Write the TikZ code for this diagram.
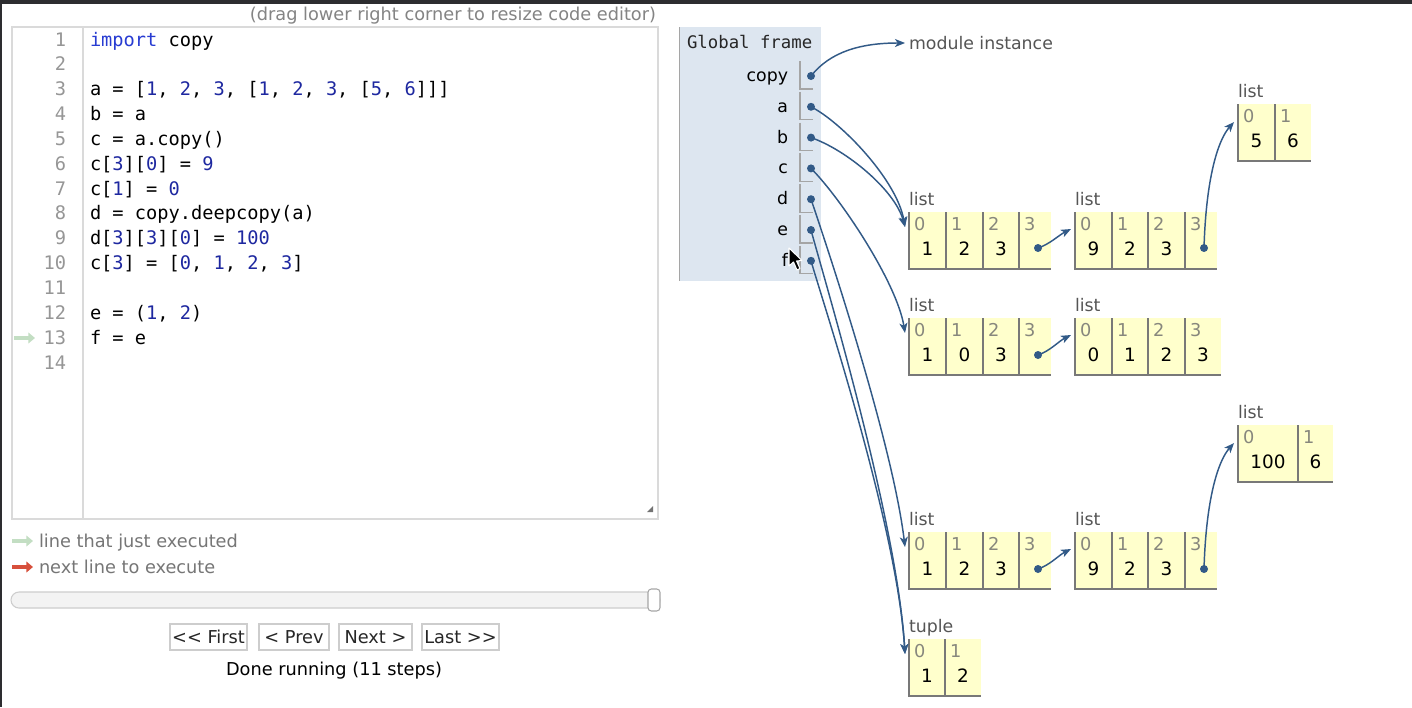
\documentclass[tikz,border=0pt]{standalone}
\usepackage{fontspec}
\setmainfont{DejaVu Sans}
\newfontfamily\codefont{DejaVu Sans Mono}
\usetikzlibrary{arrows.meta}
\definecolor{topbar}{RGB}{45,45,48}
\definecolor{uigray}{RGB}{118,118,118}
\definecolor{edgec}{RGB}{218,218,218}
\definecolor{lnumc}{RGB}{150,150,150}
\definecolor{kwc}{RGB}{40,60,210}
\definecolor{numc}{RGB}{30,40,160}
\definecolor{justc}{RGB}{195,222,195}
\definecolor{nextc}{RGB}{215,80,60}
\definecolor{framebg}{RGB}{221,230,240}
\definecolor{frameedge}{RGB}{165,165,165}
\definecolor{cellbg}{RGB}{255,255,204}
\definecolor{celledge}{RGB}{120,120,120}
\definecolor{idxc}{RGB}{135,135,125}
\definecolor{ptrc}{RGB}{50,90,135}
\definecolor{labc}{RGB}{85,85,85}
\definecolor{slidebg}{RGB}{243,243,243}
\definecolor{slideedge}{RGB}{205,205,205}
\definecolor{btnedge}{RGB}{205,205,205}
\newcommand\setfs[1]{\fontsize{#1}{#1}\selectfont}
\newcommand\nm[1]{\textcolor{numc}{#1}}
\newcommand\pycell[6]{%
  \fill[cellbg] (#2,#4) rectangle (#3,#4+57);
  \draw[cellline] (#2,#4) -- (#2,#4+57) -- (#3,#4+57);
  \node[idxtxt] (#1i) at (#2+5,#4+18) {#5};
  \node[valtxt] (#1v) at ({(#2+#3)/2},#4+43) {#6};
}
\tikzset{
  txt/.style={inner sep=0pt, outer sep=0pt},
  codetxt/.style={txt, anchor=base west, font=\codefont\setfs{14}},
  lnum/.style={txt, anchor=base east, font=\codefont\setfs{14}, text=lnumc},
  uitxt/.style={txt, anchor=base west, font=\setfs{13.3}, text=uigray},
  btn/.style={draw=btnedge, fill=white, line width=0.8pt, minimum height=19.5pt, inner sep=0pt, font=\setfs{13.3}, text=black!85},
  cellline/.style={draw=celledge, line width=1.4pt},
  idxtxt/.style={txt, anchor=base west, font=\setfs{13.3}, text=idxc},
  valtxt/.style={txt, anchor=base, font=\setfs{13.8}, text=black},
  labtxt/.style={txt, anchor=base west, font=\setfs{13}, text=labc},
  varname/.style={txt, anchor=base east, font=\setfs{13}, text=black},
  ptr/.style={draw=ptrc, line width=1.1pt, -{Stealth[length=7.5pt,width=6pt,inset=2pt]}},
  dot/.style={fill=ptrc},
}
\begin{document}
\begin{tikzpicture}[x=0.75pt,y=-0.75pt]
\useasboundingbox (0,0) rectangle (1412,707);
\fill[white] (0,0) rectangle (1412,707);
\fill[topbar] (0,0) rectangle (1412,4);
\draw[topbar, line width=1.2pt] (0.8,0) -- (0.8,707);

% ---------- left panel ----------
\node[txt, anchor=base east, font=\setfs{13.3}, text=uigray!90] (hdr) at (656,20) {(drag lower right corner to resize code editor)};
\draw[edgec, line width=1.2pt] (12,27) rectangle (658,519);
\draw[edgec, line width=1pt] (83,28) -- (83,518);
\fill[black!55] (653,506) -- (653,512) -- (647,512) -- cycle;

\foreach \i in {1,...,14} \node[lnum] (ln\i) at (66,{46+24.85*(\i-1)}) {\i};

\node[codetxt] (c1) at (90,46) {\textcolor{kwc}{import} copy};
\node[codetxt] (c3) at (90,95.7) {a = [\nm{1}, \nm{2}, \nm{3}, [\nm{1}, \nm{2}, \nm{3}, [\nm{5}, \nm{6}]]]};
\node[codetxt] (c4) at (90,120.55) {b = a};
\node[codetxt] (c5) at (90,145.4) {c = a.copy()};
\node[codetxt] (c6) at (90,170.25) {c[\nm{3}][\nm{0}] = \nm{9}};
\node[codetxt] (c7) at (90,195.1) {c[\nm{1}] = \nm{0}};
\node[codetxt] (c8) at (90,219.95) {d = copy.deepcopy(a)};
\node[codetxt] (c9) at (90,244.8) {d[\nm{3}][\nm{3}][\nm{0}] = \nm{100}};
\node[codetxt] (c10) at (90,269.65) {c[\nm{3}] = [\nm{0}, \nm{1}, \nm{2}, \nm{3}]};
\node[codetxt] (c12) at (90,319.35) {e = (\nm{1}, \nm{2})};
\node[codetxt] (c13) at (90,344.2) {f = e};

\draw[justc, line width=3pt, -{Triangle[length=5pt,width=8pt]}] (14,338) -- (35,338);

\draw[justc, line width=3pt, -{Triangle[length=5pt,width=8pt]}] (12,541) -- (33,541);
\node[uitxt] (leg1) at (39,547) {line that just executed};
\draw[nextc, line width=3pt, -{Triangle[length=5pt,width=8pt]}] (12,567) -- (33,567);
\node[uitxt] (leg2) at (39,573) {next line to execute};

\draw[fill=slidebg, draw=slideedge, line width=0.8pt, rounded corners=6pt] (11,592) rectangle (660,608);
\draw[fill=white, draw=black!35, line width=0.8pt, rounded corners=2.5pt] (648,589) rectangle (660,611);

\node[btn, minimum width=57.75pt] (bfirst) at (208.5,637) {<{}< First};
\node[btn, minimum width=52.5pt] (bprev) at (294,637) {< Prev};
\node[btn, minimum width=54.75pt] (bnext) at (375.5,637) {Next >};
\node[btn, minimum width=57.75pt] (blast) at (460.5,637) {Last >{}>};
\node[txt, anchor=base, font=\setfs{13.3}, text=black] (done) at (334,675) {Done running (11 steps)};

% ---------- frame ----------
\fill[framebg] (679,27) rectangle (821,281);
\draw[frameedge, line width=1.3pt] (679.5,27) -- (679.5,281);
\node[txt, anchor=base west, font=\codefont\setfs{13}, text=black!85] (gf) at (687,48) {Global frame};

\foreach \v/\k in {copy/0,a/1,b/2,c/3,d/4,e/5,f/6}{
  \pgfmathsetmacro\yy{76+30.8*\k}
  \node[varname] (vn-\v) at (788,\yy+5.5) {\v};
  \draw[frameedge, line width=1pt] (800,\yy-15) -- (800,\yy+13) -- (813,\yy+13);
  \coordinate (v-\v) at (811,\yy);
}

% ---------- heap ----------
\node[txt, anchor=base west, font=\setfs{13}, text=labc] (modinst) at (909,49.3) {module instance};
\coordinate (modin) at (905,43);

% list A
\node[labtxt] (Alab) at (909,205) {list};
\pycell{A0}{909}{946}{212}{0}{1}
\pycell{A1}{946}{983}{212}{1}{2}
\pycell{A2}{983}{1019}{212}{2}{3}
\pycell{A3}{1019}{1051}{212}{3}{}
\coordinate (Aptr) at (1038,248);
\coordinate (Ain) at (905,227);
% list B
\node[labtxt] (Blab) at (1075,205) {list};
\pycell{B0}{1075}{1112}{212}{0}{9}
\pycell{B1}{1112}{1148}{212}{1}{2}
\pycell{B2}{1148}{1185}{212}{2}{3}
\pycell{B3}{1185}{1217}{212}{3}{}
\coordinate (Bptr) at (1204,248);
\coordinate (Bin) at (1071,229);
% list C
\node[labtxt] (Clab) at (1238,97) {list};
\pycell{C0}{1238}{1275}{104}{0}{5}
\pycell{C1}{1275}{1311}{104}{1}{6}
\coordinate (Cin) at (1234,122);
% list D
\node[labtxt] (Dlab) at (909,311) {list};
\pycell{D0}{909}{946}{318}{0}{1}
\pycell{D1}{946}{983}{318}{1}{0}
\pycell{D2}{983}{1019}{318}{2}{3}
\pycell{D3}{1019}{1051}{318}{3}{}
\coordinate (Dptr) at (1038,355);
\coordinate (Din) at (905,333);
% list E
\node[labtxt] (Elab) at (1075,311) {list};
\pycell{E0}{1075}{1112}{318}{0}{0}
\pycell{E1}{1112}{1148}{318}{1}{1}
\pycell{E2}{1148}{1185}{318}{2}{2}
\pycell{E3}{1185}{1221}{318}{3}{3}
\coordinate (Ein) at (1071,335);
% list F
\node[labtxt] (Flab) at (909,525) {list};
\pycell{F0}{909}{946}{532}{0}{1}
\pycell{F1}{946}{983}{532}{1}{2}
\pycell{F2}{983}{1019}{532}{2}{3}
\pycell{F3}{1019}{1051}{532}{3}{}
\coordinate (Fptr) at (1038,569);
\coordinate (Fin) at (905,547);
% list G
\node[labtxt] (Glab) at (1075,525) {list};
\pycell{G0}{1075}{1112}{532}{0}{9}
\pycell{G1}{1112}{1148}{532}{1}{2}
\pycell{G2}{1148}{1185}{532}{2}{3}
\pycell{G3}{1185}{1217}{532}{3}{}
\coordinate (Gptr) at (1204,569);
\coordinate (Gin) at (1071,549);
% list H
\node[labtxt] (Hlab) at (1238,418) {list};
\pycell{H0}{1238}{1298}{425}{0}{100}
\pycell{H1}{1298}{1333}{425}{1}{6}
\coordinate (Hin) at (1234,443);
% tuple
\node[labtxt] (Tlab) at (909,632) {tuple};
\pycell{T0}{909}{945}{639}{0}{1}
\pycell{T1}{945}{981}{639}{1}{2}
\coordinate (Tin) at (905,654);

% ---------- connectors ----------
\draw[ptr] (v-copy) .. controls +(19,-24) and +(-45,0) .. (modin);
\draw[ptr] (v-a) .. controls +(30,15) and +(-8,-47) .. (Ain);
\draw[ptr] (v-b) .. controls +(35,12) and +(-10,-37) .. (Ain);
\draw[ptr] (v-c) .. controls +(30,30) and +(-8,-50) .. (Din);
\draw[ptr] (v-d) .. controls +(22,65) and +(-12,-100) .. (Fin);
\draw[ptr] (v-e) .. controls +(12,45) and +(-8,-134) .. (Tin);
\draw[ptr] (v-f) .. controls +(11,39) and +(-8,-129) .. (Tin);
\draw[ptr] (Aptr) .. controls +(12,-4) and +(-12,6) .. (Bin);
\draw[ptr] (Bptr) .. controls +(2,-70) and +(-16,18) .. (Cin);
\draw[ptr] (Dptr) .. controls +(12,-4) and +(-12,6) .. (Ein);
\draw[ptr] (Fptr) .. controls +(12,-4) and +(-12,6) .. (Gin);
\draw[ptr] (Gptr) .. controls +(2,-70) and +(-16,18) .. (Hin);

\foreach \p in {v-copy,v-a,v-b,v-c,v-d,v-e,v-f,Aptr,Bptr,Dptr,Fptr,Gptr}
  \fill[dot] (\p) circle[radius=3pt];

% mouse cursor
\draw[white, fill=black, line width=0.8pt, line join=round] (789,248) -- (789,266) -- (793.5,262) -- (797,270) -- (800,268.6) -- (796.6,261) -- (802,260.5) -- cycle;
\end{tikzpicture}
\end{document}
